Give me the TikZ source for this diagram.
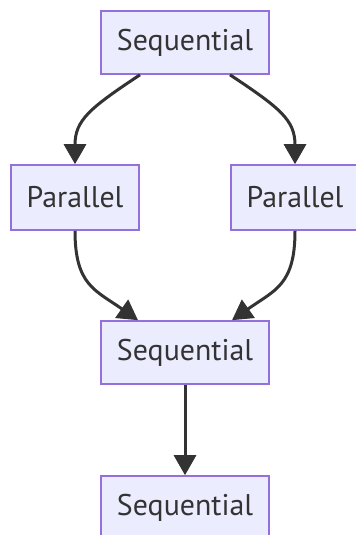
\documentclass[tikz,border=0pt]{standalone}
\usepackage{fontspec}
\setmainfont{PT Sans}
\usetikzlibrary{arrows.meta}
\definecolor{boxfill}{HTML}{ECECFF}
\definecolor{boxline}{HTML}{9370DB}
\definecolor{ink}{HTML}{333333}
\tikzset{
  box/.style={draw=boxline, fill=boxfill, line width=1.6bp, inner sep=0pt,
    text=ink, font=\fontsize{30}{34}\selectfont},
  seqbox/.style={box, minimum width=168bp, minimum height=63bp},
  parbox/.style={box, minimum width=128bp, minimum height=65bp},
  link/.style={draw=ink, line width=3bp, -{Triangle[length=20bp,width=22bp]}}
}
\begin{document}
\begin{tikzpicture}[x=1bp,y=-1bp]
\useasboundingbox (0,0) rectangle (355,535);
\node[seqbox] (s1) at (185,42.5) {Sequential};
\node[parbox] (p1) at (75,197.5) {Parallel};
\node[parbox] (p2) at (295,197.5) {Parallel};
\node[seqbox] (s2) at (185,352.5) {Sequential};
\node[seqbox] (s3) at (185,507.5) {Sequential};
\coordinate (a1) at ([xshift=-45bp]s1.south);
\coordinate (a2) at ([xshift=45bp]s1.south);
\coordinate (b1) at ([xshift=-47bp]s2.north);
\coordinate (b2) at ([xshift=47bp]s2.north);
\draw[link] (a1) .. controls (90,108) and (75,120) .. (p1.north);
\draw[link] (a2) .. controls (280,108) and (295,120) .. (p2.north);
\draw[link] (p1.south) .. controls (75,285) and (95,290) .. (b1);
\draw[link] (p2.south) .. controls (295,285) and (275,290) .. (b2);
\draw[link] (s2) -- (s3);
\end{tikzpicture}
\end{document}
